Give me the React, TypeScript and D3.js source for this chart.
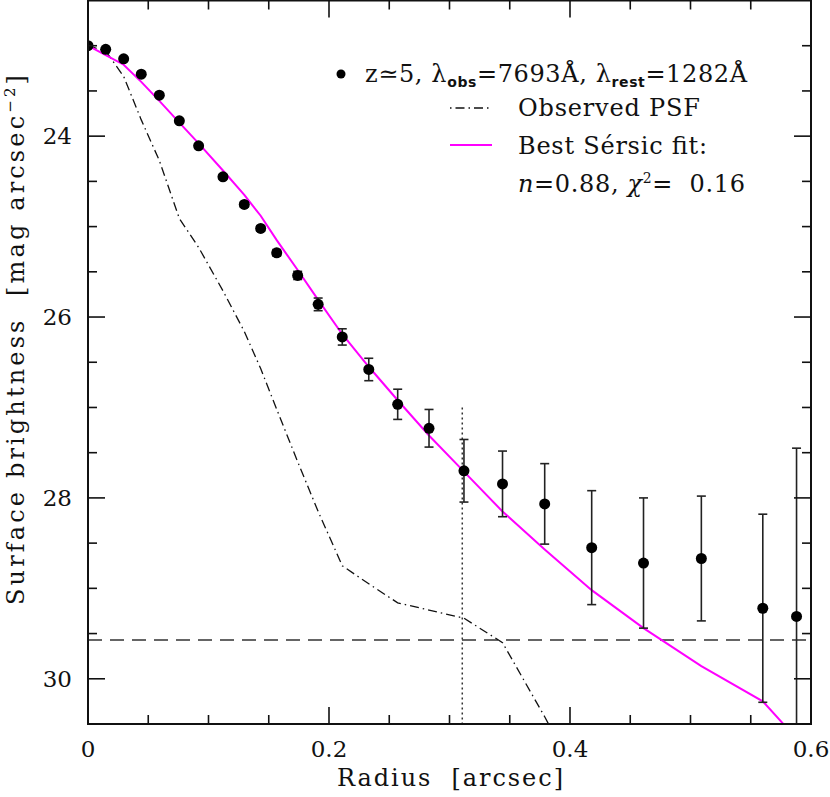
import React from 'react';
import * as d3 from 'd3';

// sample radii (arcsec) shared by the data, PSF and fit curves
const radius = [0, 0.0147, 0.0296, 0.0442, 0.0592, 0.0758, 0.0918, 0.112, 0.1297, 0.1433, 0.1566, 0.174, 0.191,
  0.211, 0.233, 0.257, 0.283, 0.312, 0.344, 0.379, 0.418, 0.461, 0.509, 0.560, 0.588];
const mag = [23.0, 23.04, 23.145, 23.315, 23.547, 23.83, 24.107, 24.45, 24.755, 25.02, 25.29, 25.54, 25.86,
  26.22, 26.58, 26.965, 27.23, 27.70, 27.845, 28.066, 28.55, 28.72, 28.67, 29.22, 29.31];
const magErr = [0.01, 0.01, 0.015, 0.015, 0.02, 0.02, 0.02, 0.025, 0.03, 0.03, 0.035, 0.045, 0.07,
  0.09, 0.124, 0.167, 0.208, 0.346, 0.363, 0.445, 0.63, 0.72, 0.69, 1.04, 1.86];
const sersicFit = [23.0, 23.105, 23.21, 23.40, 23.61, 23.85, 24.08, 24.38, 24.65, 24.88, 25.15, 25.48, 25.81,
  26.19, 26.55, 26.92, 27.31, 27.71, 28.15, 28.57, 29.02, 29.44, 29.86, 30.25, 30.66];
const psf = [23.0, 23.06, 23.34, 23.82, 24.27, 24.91, 25.23, 25.71, 26.16, 26.57, 27.02, 27.6, 28.15,
  28.75, 28.95, 29.16, 29.24, 29.33, 29.6, 30.42, 31.4];

const xMajor = [0, 0.2, 0.4, 0.6];
const xTickLabels = ['0', '0.2', '0.4', '0.6'];
const yMajor = [24, 26, 28, 30];
const yTickLabels = ['24', '26', '28', '30'];
const skyLimit = 29.57;   // dashed horizontal
const psfRadius = 0.3106; // dotted vertical
const psfRadiusTop = 27.0;

const W = 830, H = 797;
const left = 88, right = 811, top = 0.5, bottom = 724;
const font = '"DejaVu Serif", serif';

export default function App() {
  const x = d3.scaleLinear().domain([0, 0.6]).range([left, right]);
  const y = d3.scaleLinear().domain([22.5, 30.5]).range([top, bottom]);

  const xMinor = d3.range(0.05, 0.6, 0.05).map(v => +v.toFixed(2)).filter(v => !xMajor.some(m => Math.abs(m - v) < 1e-6));
  const yMinor = d3.range(23, 30.51, 0.5).filter(v => !yMajor.includes(v));

  const line = d3.line<[number, number]>().x(d => x(d[0])).y(d => y(d[1]));
  const fitPath = line(radius.map((r, i) => [r, sersicFit[i]]));
  const psfPath = line(psf.map((m, i) => [radius[i], m]));

  const major = 17, minor = 9;
  const tickStyle = { stroke: '#111', strokeWidth: 1.6 };

  return (
    <svg width={W} height={H} style={{ display: 'block', position: 'absolute', left: 0, top: 0, background: '#fff' }}>
      <defs>
        <clipPath id="plot">
          <rect x={left} y={top} width={right - left} height={bottom - top} />
        </clipPath>
      </defs>

      <g clipPath="url(#plot)">
        {/* sky limit */}
        <line x1={left} x2={right} y1={y(skyLimit)} y2={y(skyLimit)} stroke="#333" strokeWidth={1.5} strokeDasharray="14,8" />
        {/* PSF radius */}
        <line x1={x(psfRadius)} x2={x(psfRadius)} y1={y(psfRadiusTop)} y2={bottom} stroke="#333" strokeWidth={1.5} strokeDasharray="2,3" />
        <path d={psfPath ?? ''} fill="none" stroke="#111" strokeWidth={1.3} strokeDasharray="9,4,1.5,4" />
        <path d={fitPath ?? ''} fill="none" stroke="#ff00ff" strokeWidth={2} />
        {radius.map((r, i) => {
          const cx = x(r);
          const y1 = y(mag[i] - magErr[i]);
          const y2 = y(mag[i] + magErr[i]);
          return (
            <g key={i} stroke="#222" strokeWidth={1.6}>
              <line x1={cx} x2={cx} y1={y1} y2={y2} />
              <line x1={cx - 4.5} x2={cx + 4.5} y1={y1} y2={y1} />
              <line x1={cx - 4.5} x2={cx + 4.5} y1={y2} y2={y2} />
              <circle cx={cx} cy={y(mag[i])} r={5.5} fill="#000" stroke="none" />
            </g>
          );
        })}
      </g>

      {/* frame */}
      <rect x={left} y={top} width={right - left} height={bottom - top} fill="none" stroke="#111" strokeWidth={2} />

      {/* ticks on all four sides */}
      {xMajor.map(v => (
        <g key={'xM' + v} {...tickStyle}>
          <line x1={x(v)} x2={x(v)} y1={bottom} y2={bottom - major} />
          <line x1={x(v)} x2={x(v)} y1={top} y2={top + major} />
        </g>
      ))}
      {xMinor.map(v => (
        <g key={'xm' + v} {...tickStyle}>
          <line x1={x(v)} x2={x(v)} y1={bottom} y2={bottom - minor} />
          <line x1={x(v)} x2={x(v)} y1={top} y2={top + minor} />
        </g>
      ))}
      {yMajor.map(v => (
        <g key={'yM' + v} {...tickStyle}>
          <line x1={left} x2={left + major} y1={y(v)} y2={y(v)} />
          <line x1={right} x2={right - major} y1={y(v)} y2={y(v)} />
        </g>
      ))}
      {yMinor.map(v => (
        <g key={'ym' + v} {...tickStyle}>
          <line x1={left} x2={left + minor} y1={y(v)} y2={y(v)} />
          <line x1={right} x2={right - minor} y1={y(v)} y2={y(v)} />
        </g>
      ))}

      {/* tick labels */}
      {xMajor.map((v, i) => (
        <text key={'xl' + v} x={x(v)} y={757} textAnchor="middle" fontFamily={font} fontSize={23} fill="#111">{xTickLabels[i]}</text>
      ))}
      {yMajor.map((v, i) => (
        <text key={'yl' + v} x={72} y={y(v) + 8} textAnchor="end" fontFamily={font} fontSize={23} fill="#111">{yTickLabels[i]}</text>
      ))}

      {/* axis titles */}
      <text x={337} y={786} textLength={226} lengthAdjust="spacing" fontFamily={font} fontSize={24} fill="#111" xmlSpace="preserve">Radius  [arcsec]</text>
      <text transform={`translate(24,605) rotate(-90)`} textLength={530} lengthAdjust="spacing" fontFamily={font} fontSize={24} fill="#111" xmlSpace="preserve">
        Surface brightness  [mag arcsec<tspan dy={-9} fontSize={15}>−2</tspan><tspan dy={9}>]</tspan>
      </text>

      {/* legend */}
      <circle cx={341} cy={74} r={4.5} fill="#000" />
      <text x={365} y={82} textLength={382} lengthAdjust="spacing" fontFamily={font} fontSize={24} fill="#111" xmlSpace="preserve">
        z≃5, λ<tspan dy={5} fontSize={14} fontFamily="DejaVu Sans" fontWeight="bold">obs</tspan>
        <tspan dy={-5}>=7693Å, λ</tspan>
        <tspan dy={5} fontSize={14} fontFamily="DejaVu Sans" fontWeight="bold">rest</tspan>
        <tspan dy={-5}>=1282Å</tspan>
      </text>
      <line x1={450} x2={492} y1={108} y2={108} stroke="#111" strokeWidth={1.3} strokeDasharray="1.5,4,9,4" />
      <text x={518} y={116} textLength={182} lengthAdjust="spacing" fontFamily={font} fontSize={24} fill="#111">Observed PSF</text>
      <line x1={450} x2={492} y1={145} y2={145} stroke="#ff00ff" strokeWidth={2} />
      <text x={518} y={154} textLength={189} lengthAdjust="spacing" fontFamily={font} fontSize={24} fill="#111">Best Sérsic fit:</text>
      <text x={518} y={192} textLength={227} lengthAdjust="spacing" fontFamily={font} fontSize={24} fill="#111" xmlSpace="preserve">
        <tspan fontStyle="italic">n</tspan>=0.88, <tspan fontStyle="italic">χ</tspan><tspan dy={-9} fontSize={14}>2</tspan><tspan dy={9}>=  0.16</tspan>
      </text>
    </svg>
  );
}
